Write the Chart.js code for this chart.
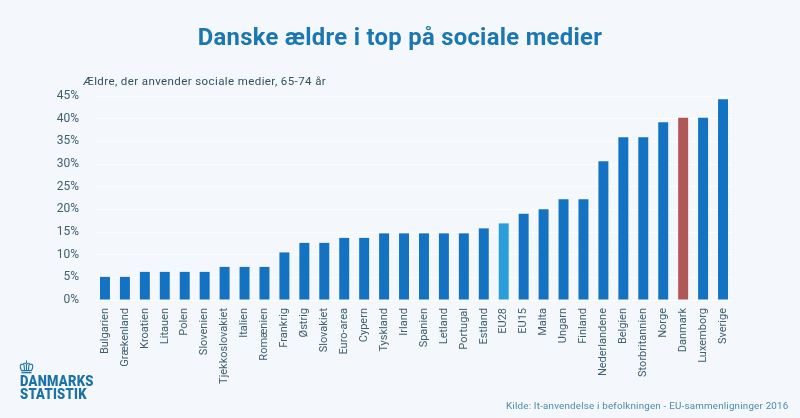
<!DOCTYPE html>
<html lang="da">
<head>
<meta charset="utf-8">
<title>Danske ældre i top på sociale medier</title>
<script src="https://cdn.jsdelivr.net/npm/chart.js@4"></script>
<style>
  html, body { margin: 0; padding: 0; background: #f4f7fb; }
  #wrap { position: relative; width: 800px; height: 418px; overflow: hidden; background: #f4f7fb; font-family: Roboto, sans-serif; }
  #barChart { position: absolute; left: 0; top: 0; }
  #title { position: absolute; left: 0; width: 800px; top: 22px; text-align: center; font-size: 23.8px; font-weight: 700; color: #1a77b2; line-height: 30px; letter-spacing: 0.3px; }
  #subtitle { position: absolute; left: 83px; top: 74px; font-size: 11.5px; color: #2f5261; line-height: 14px; letter-spacing: 0.4px; white-space: nowrap; }
  #source { position: absolute; left: 506px; top: 399px; font-size: 9.8px; color: #4b8cab; line-height: 13px; letter-spacing: 0.2px; white-space: nowrap; }
  #logo { position: absolute; left: 20px; top: 375px; font-size: 14.6px; font-weight: 900; color: #1c72a6; line-height: 12.5px; letter-spacing: 0.3px; transform: scaleX(0.89); transform-origin: left top; white-space: nowrap; }
  #crown { position: absolute; left: 19px; top: 360px; }
</style>
</head>
<body>
<div id="wrap">
  <canvas id="barChart" width="800" height="418"></canvas>
  <div id="title">Danske ældre i top på sociale medier</div>
  <div id="subtitle">Ældre, der anvender sociale medier, 65-74 år</div>
  <svg id="crown" width="15" height="14" viewBox="0 0 15 14" fill="none" stroke="#1c72a6" stroke-width="1.1">
    <path d="M2.5 10.5 C0 6 1.5 3.5 4 4.5 C5 2.8 6.5 3 7.5 4.5 C8.5 3 10 2.8 11 4.5 C13.5 3.5 15 6 12.5 10.5 Z"/>
    <path d="M5 4.5 L5.5 10.5 M10 4.5 L9.5 10.5 M7.5 4.5 V10.5 M7.5 0.5 V3"/>
    <path d="M2.5 12.5 H12.5" stroke-width="1.6"/>
  </svg>
  <div id="logo">DANMARKS<br>STATISTIK</div>
  <div id="source">Kilde: It-anvendelse i befolkningen - EU-sammenligninger 2016</div>
</div>
<script>
const lande = ['Bulgarien', 'Grækenland', 'Kroatien', 'Litauen', 'Polen', 'Slovenien', 'Tjekkoslovakiet', 'Italien',
  'Romænien', 'Frankrig', 'Østrig', 'Slovakiet', 'Euro-area', 'Cypern', 'Tyskland', 'Irland', 'Spanien', 'Letland',
  'Portugal', 'Estland', 'EU28', 'EU15', 'Malta', 'Ungarn', 'Finland', 'Nederlandene', 'Belgien', 'Storbritannien',
  'Norge', 'Danmark', 'Luxemborg', 'Sverige'];
const andele = [5.1, 5.1, 6.2, 6.2, 6.2, 6.2, 7.3, 7.3, 7.3, 10.5, 12.6, 12.6, 13.7, 13.7, 14.7, 14.7, 14.7, 14.7,
  14.7, 15.8, 16.9, 19, 20, 22.2, 22.2, 30.6, 35.9, 35.9, 39.2, 40.2, 40.2, 44.3];

const farver = { 'EU28': '#2a9edb', 'Danmark': '#b25758' };
const tickFarve = '#3d5f6f';

new Chart(document.getElementById('barChart').getContext('2d'), {
  type: 'bar',
  data: {
    labels: lande,
    datasets: [{
      data: andele,
      backgroundColor: lande.map(l => farver[l] || '#1373c2'),
      borderWidth: 0,
      barPercentage: 0.5,
      categoryPercentage: 1,
    }]
  },
  options: {
    responsive: false,
    animation: false,
    layout: { padding: { left: 0, right: 67, top: 96, bottom: 0 } },
    plugins: { legend: { display: false }, tooltip: { enabled: false } },
    scales: {
      x: {
        afterFit: s => { s.height = 118; },
        grid: { display: false },
        border: { display: false },
        ticks: { autoSkip: false, minRotation: 90, maxRotation: 90, padding: 0, font: { family: 'Roboto, sans-serif', size: 11 }, color: tickFarve },
      },
      y: {
        min: 0,
        max: 45,
        afterFit: s => { s.width = 95; },
        grid: { color: 'rgba(255,255,255,0.7)', drawTicks: false },
        border: { display: false },
        ticks: { stepSize: 5, padding: 16, font: { family: 'Roboto, sans-serif', size: 12 }, color: tickFarve, callback: v => v + '%' },
      }
    }
  }
});
</script>
</body>
</html>
